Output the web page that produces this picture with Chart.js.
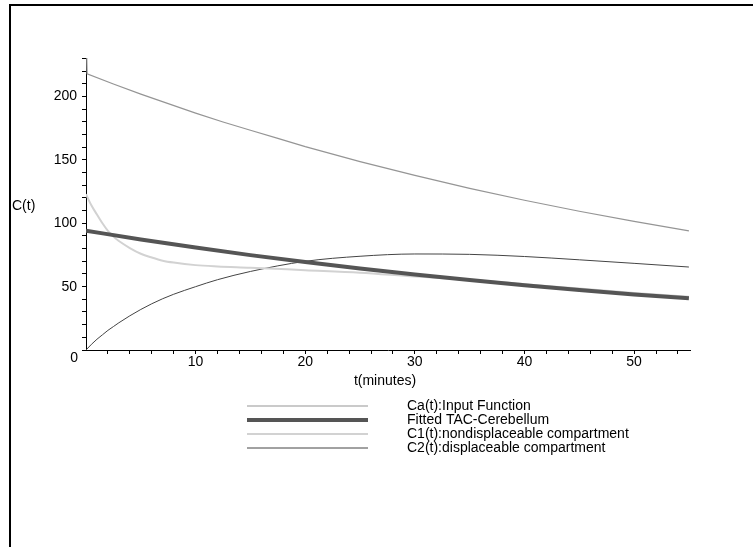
<!DOCTYPE html>
<html>
<head>
<meta charset="utf-8">
<script src="https://cdn.jsdelivr.net/npm/chart.js@4.4.1/dist/chart.umd.min.js"></script>
<style>
  body { margin: 0; background: #fff; }
  #frame { position: absolute; left: 9px; top: 4px; width: 760px; height: 560px;
           border-top: 2px solid #000; border-left: 2px solid #000; }
  #c { position: absolute; left: 0; top: 0; }
</style>
</head>
<body>
<div id="frame"></div>
<canvas id="c" width="753" height="547"></canvas>
<script>
// valori
const seriesLabels = [
  'Ca(t):Input Function',
  'Fitted TAC-Cerebellum',
  'C1(t):nondisplaceable compartment',
  'C2(t):displaceable compartment'
];

const tCa = [0, 0.1, 2.5, 5, 7.5, 10, 12.5, 15, 17.5, 20, 25, 30, 35, 40, 45, 50, 55];
const ca  = [260, 218, 210, 202, 194.5, 187, 180, 173.5, 167, 160.5, 148.7, 137.8, 127.6, 118.2, 109.5, 101.5, 94];

const tFit = [0, 5, 10, 15, 20, 25, 30, 35, 40, 45, 50, 55];
const fit  = [94.2, 87.3, 80.9, 74.9, 69.4, 64.3, 59.6, 55.2, 51.1, 47.4, 43.9, 40.8];

const tC1 = [0, 0.5, 1, 1.5, 2, 2.5, 3, 4, 5, 6, 7, 8, 10, 12, 15, 20, 25, 30, 35, 40, 45, 50, 55];
const c1  = [123, 114, 107, 100, 94, 89.5, 86, 80.5, 76, 73, 70.5, 69, 67, 66, 65, 63, 61, 58, 55.5, 52, 48.5, 45, 42];

const tC2 = [0, 0.5, 1, 1.5, 2, 2.5, 3, 4, 5, 6, 7, 8, 10, 12, 15, 20, 25, 30, 35, 40, 45, 50, 55];
const c2  = [0, 4.5, 8.5, 12, 15.5, 18.5, 21.5, 27, 32, 36.5, 40.5, 44, 50, 55.5, 62, 70, 74, 75.8, 75.5, 73.8, 71.2, 68.4, 65.5];

const xTicks = [2, 4, 6, 8, 10, 12, 14, 16, 18, 20, 22, 24, 26, 28, 30, 32, 34, 36, 38, 40, 42, 44, 46, 48, 50, 52, 54];
const yTicks = [0, 10, 20, 30, 40, 50, 60, 70, 80, 90, 100, 110, 120, 130, 140, 150, 160, 170, 180, 190, 200, 210, 220, 230];

const FONT = 'Liberation Sans, Arial, sans-serif';

function pts(xs, ys) {
  return xs.map((x, i) => ({ x: x, y: ys[i] }));
}

// etichette e legenda disegnate a mano
const extraText = {
  id: 'extraText',
  afterDraw(chart) {
    const ctx = chart.ctx;
    ctx.save();
    ctx.fillStyle = '#000';
    ctx.font = '14px ' + FONT;
    ctx.textBaseline = 'middle';
    ctx.textAlign = 'left';
    ctx.fillText('C(t)', 12, 206);
    ctx.textAlign = 'right';
    ctx.fillText('0', 78, 358);
    ctx.textAlign = 'center';
    ctx.fillText('t(minutes)', 385, 381);

    // legenda
    const rows = [406, 420, 434, 448];
    chart.data.datasets.forEach((ds, i) => {
      ctx.beginPath();
      ctx.strokeStyle = ds.borderColor;
      ctx.lineWidth = ds.borderWidth;
      ctx.moveTo(247, rows[i]);
      ctx.lineTo(368, rows[i]);
      ctx.stroke();
      ctx.textAlign = 'left';
      ctx.fillStyle = '#000';
      ctx.fillText(ds.label, 407, rows[i]);
    });
    ctx.restore();
  }
};

new Chart(document.getElementById('c'), {
  type: 'line',
  data: {
    datasets: [
      { label: seriesLabels[0], data: pts(tCa, ca), borderColor: '#959595', borderWidth: 1.2,
        tension: 0, cubicInterpolationMode: 'default' },
      { label: seriesLabels[1], data: pts(tFit, fit), borderColor: '#555555', borderWidth: 4 },
      { label: seriesLabels[2], data: pts(tC1, c1), borderColor: '#d2d2d2', borderWidth: 2 },
      { label: seriesLabels[3], data: pts(tC2, c2), borderColor: '#444444', borderWidth: 1 }
    ]
  },
  options: {
    responsive: false,
    animation: false,
    devicePixelRatio: 1,
    layout: { padding: { top: 58, right: 63, left: 0, bottom: 0 } },
    elements: {
      point: { radius: 0 },
      line: { tension: 0.4, cubicInterpolationMode: 'monotone', fill: false }
    },
    plugins: {
      legend: { display: false },
      tooltip: { enabled: false }
    },
    scales: {
      x: {
        type: 'linear',
        min: 0,
        max: 55.1,
        afterFit(s) { s.height = 197; },
        afterBuildTicks(s) { s.ticks = xTicks.map(v => ({ value: v })); },
        border: { color: '#000', width: 1 },
        grid: { drawOnChartArea: false, tickLength: 4, tickColor: '#000' },
        ticks: {
          color: '#000',
          font: { family: FONT, size: 14 },
          padding: 0,
          maxRotation: 0,
          autoSkip: false,
          callback: v => (v % 10 === 0 ? v : '')
        }
      },
      y: {
        type: 'linear',
        min: 0,
        max: 230.5,
        afterFit(s) { s.width = 86; },
        afterBuildTicks(s) { s.ticks = yTicks.map(v => ({ value: v })); },
        border: { color: '#000', width: 1 },
        grid: { drawOnChartArea: false, tickLength: 4, tickColor: '#000' },
        ticks: {
          color: '#000',
          font: { family: FONT, size: 14 },
          padding: 5,
          autoSkip: false,
          callback: v => (v % 50 === 0 && v !== 0 ? v : '')
        }
      }
    }
  },
  plugins: [extraText]
});
</script>
</body>
</html>
